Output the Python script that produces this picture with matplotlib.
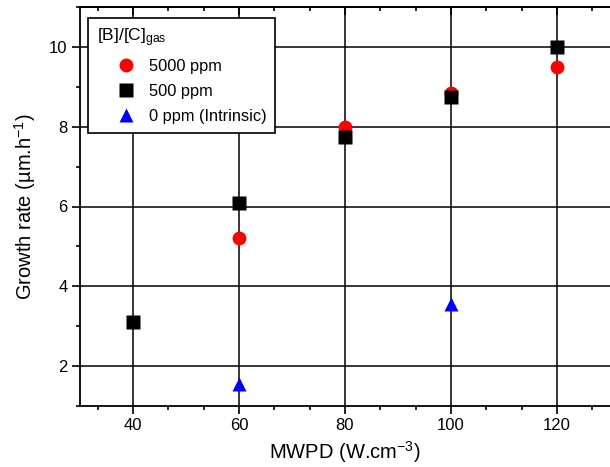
import matplotlib.pyplot as plt
from matplotlib.ticker import MultipleLocator

plt.rcParams['font.family'] = ['Liberation Sans', 'DejaVu Sans']
plt.rcParams['mathtext.fontset'] = 'custom'
plt.rcParams['mathtext.rm'] = 'Liberation Sans'
plt.rcParams['mathtext.it'] = 'Liberation Sans'

# MWPD (W.cm-3) vs growth rate (um/h)
x_5000 = [60, 80, 100, 120]
y_5000 = [5.2, 8.0, 8.85, 9.5]
x_500 = [40, 60, 80, 100, 120]
y_500 = [3.1, 6.1, 7.75, 8.75, 10.0]
x_0 = [60, 100]
y_0 = [1.55, 3.55]

fig = plt.figure(figsize=(6.10, 4.67), dpi=100)
ax = fig.add_axes([80 / 610, 1 - 406 / 467, 530 / 610, 399 / 467])

ax.plot(x_5000, y_5000, 'o', color='red', ms=10, mec='none', label='5000 ppm', zorder=3)
ax.plot(x_500, y_500, 's', color='black', ms=9.5, mec='none', label='500 ppm', zorder=3)
ax.plot(x_0, y_0, '^', color='blue', ms=10.5, mec='none', label='0 ppm (Intrinsic)', zorder=3)

ax.set_xlim(30, 130)
ax.set_ylim(1, 11)
ax.xaxis.set_major_locator(MultipleLocator(20))
ax.xaxis.set_minor_locator(MultipleLocator(20 / 3))
ax.yaxis.set_major_locator(MultipleLocator(2))
ax.yaxis.set_minor_locator(MultipleLocator(1))
ax.grid(True, which='major', color='black', lw=1.1)
ax.set_axisbelow(True)

ax.tick_params(which='both', direction='out', labelsize=12, width=1.2, pad=3.5)
ax.tick_params(which='major', length=5.5)
ax.tick_params(which='minor', length=3)

# top axis: ticks pointing inward, no labels
top = ax.secondary_xaxis('top')
top.xaxis.set_major_locator(MultipleLocator(20))
top.xaxis.set_minor_locator(MultipleLocator(20 / 3))
top.tick_params(which='both', direction='in', labeltop=False, width=1.2)
top.tick_params(which='major', length=5.5)
top.tick_params(which='minor', length=3)
top.spines['top'].set_linewidth(1.3)

ax.spines['right'].set_visible(False)
for s in ['left', 'bottom', 'top']:
    ax.spines[s].set_linewidth(1.3)

ax.set_xlabel('MWPD (W.cm$^{-3}$)', fontsize=14.5, labelpad=4)
ax.set_ylabel('Growth rate (µm.h$^{-1}$)', fontsize=14.5, labelpad=8)

leg = ax.legend(loc='upper left', bbox_to_anchor=(0.015, 0.973), title='[B]/[C]$_{gas}$',
                fontsize=11.8, title_fontsize=12.5, frameon=True, fancybox=False,
                edgecolor='black', framealpha=1, borderpad=0.55, handlelength=3.6,
                handletextpad=-0.45, labelspacing=0.6, borderaxespad=0)
leg._legend_box.align = 'left'
leg.get_frame().set_linewidth(1.2)

fig.savefig('out.png', dpi=100)
